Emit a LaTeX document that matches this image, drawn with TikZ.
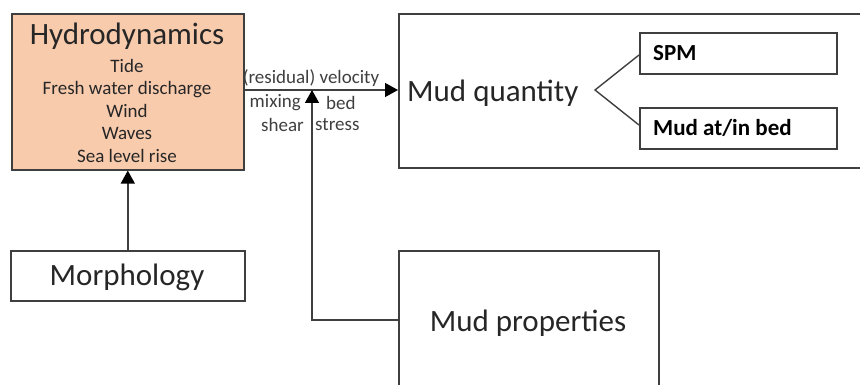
\documentclass[tikz,border=0pt]{standalone}
\usepackage{fontspec}
\setmainfont{Carlito}
\usetikzlibrary{arrows.meta}
\definecolor{peach}{HTML}{F9CBAD}
\definecolor{edge}{HTML}{3F3F3F}
\definecolor{ink}{HTML}{262626}
\tikzset{
  box/.style={draw=edge, line width=1.6pt, anchor=north west, inner sep=0pt},
  conn/.style={draw=edge, line width=1.4pt},
  arrow/.style={conn, -{Triangle[length=13pt,width=14pt,fill=black,color=black]}},
  big/.style={font=\fontsize{31}{36}\selectfont, text=ink},
  small/.style={font=\fontsize{19}{22.5}\selectfont, text=ink},
  bold/.style={font=\fontsize{23}{27}\selectfont\bfseries, text=black},
}
\begin{document}
\begin{tikzpicture}[x=1pt, y=-1pt]
\useasboundingbox (0,0) rectangle (860,385);

% boxes
\node[box, fill=peach, minimum width=232pt, minimum height=156pt] (hydro) at (11,13) {};
\node[box, minimum width=234pt, minimum height=50pt] (morph) at (10,250) {};
\node[box, minimum width=480pt, minimum height=154pt] (mudq) at (398,13) {};
\node[box, minimum width=197pt, minimum height=41pt] (spm) at (639,32) {};
\node[box, minimum width=197pt, minimum height=41pt] (bed) at (639,107) {};
\node[box, minimum width=260pt, minimum height=145pt] (mudp) at (398,250) {};

% texts
\node[big, inner sep=0pt] (hydrotitle) at (127,36) {Hydrodynamics};
\node[small, anchor=north, align=center, inner sep=0pt] (hydrolist) at (127,59)
  {Tide\\Fresh water discharge\\Wind\\Waves\\Sea level rise};
\node[big, inner sep=0pt] (morphtext) at (127,277) {Morphology};
\node[big, anchor=west, inner sep=0pt] (mudqtext) at (407,93) {Mud quantity};
\node[bold, anchor=west, inner sep=0pt] (spmtext) at (653,53) {SPM};
\node[bold, anchor=west, inner sep=0pt] (bedtext) at (653,128) {Mud at/in bed};
\node[big, inner sep=0pt] (mudptext) at (528,323) {Mud properties};

% connector labels
\node[small, text=edge, anchor=south, inner sep=0pt] (lvel) at (311,87) {(residual) velocity};
\node[small, text=edge, anchor=east, inner sep=0pt] (lmix) at (301,103) {mixing};
\node[small, text=edge, anchor=west, inner sep=0pt] (lbed) at (326,103) {bed};
\node[small, text=edge, anchor=east, inner sep=0pt] (lshear) at (304,125) {shear};
\node[small, text=edge, anchor=west, inner sep=0pt] (lstress) at (315,125) {stress};

% connectors
\coordinate (join) at (312,90);
\coordinate (corner) at (312,320);
\coordinate (tip) at (595,90);
\draw[arrow] (hydro.east |- join) -- (mudq.west |- join);
\draw[arrow] (mudp.west |- corner) -- (corner) -- (join);
\draw[arrow] (morph.north) -- (hydro.south);
\draw[conn] (spm.west |- 0,55) -- (tip) -- (bed.west |- 0,125);
\end{tikzpicture}
\end{document}
